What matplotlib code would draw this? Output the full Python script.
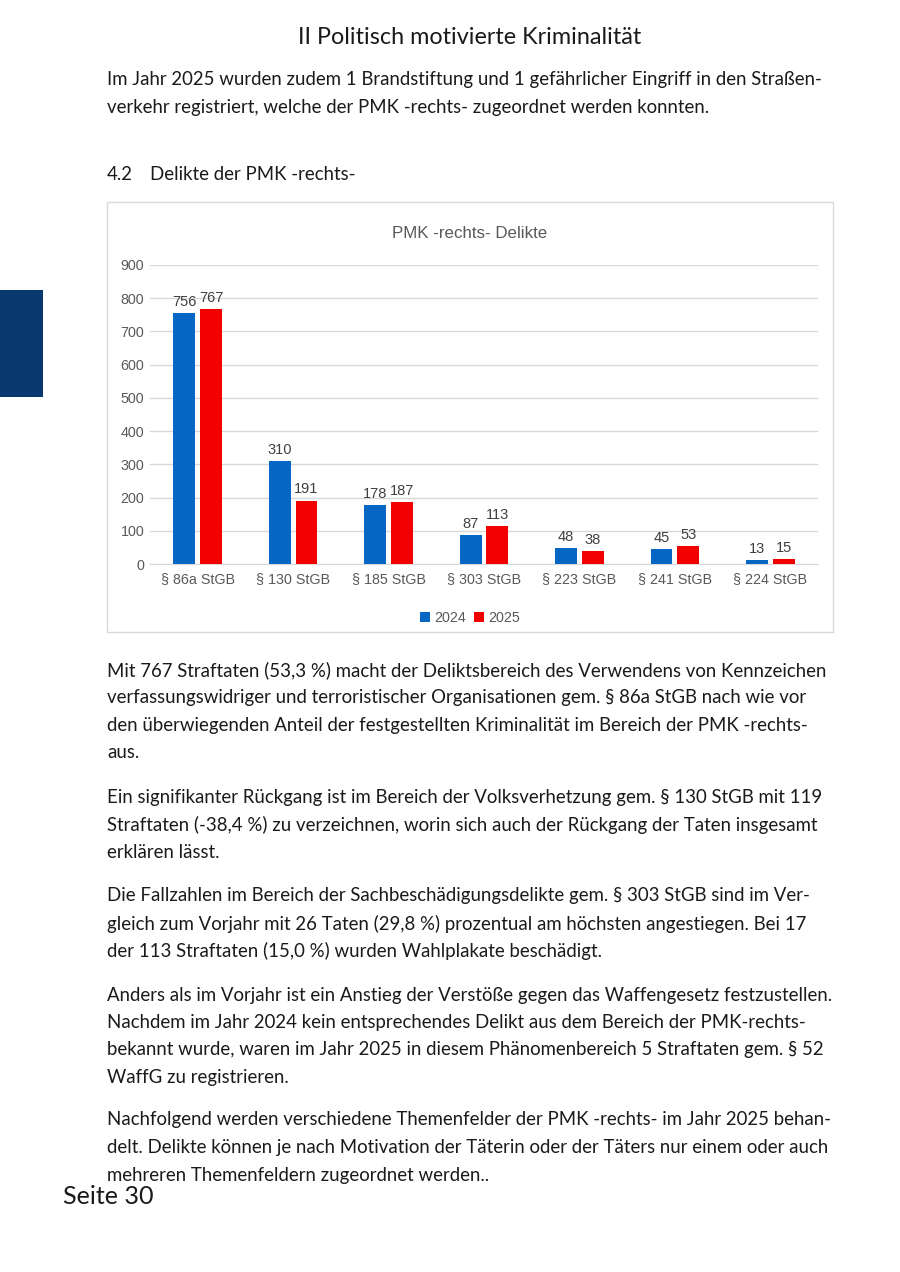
import matplotlib
matplotlib.use("Agg")
import matplotlib.pyplot as plt
from matplotlib import font_manager
from matplotlib.patches import Rectangle
import numpy as np

# ---------------- data ----------------
categories = ["§ 86a StGB", "§ 130 StGB", "§ 185 StGB", "§ 303 StGB",
              "§ 223 StGB", "§ 241 StGB", "§ 224 StGB"]
values_2024 = [756, 310, 178, 87, 48, 45, 13]
values_2025 = [767, 191, 187, 113, 38, 53, 15]
series_labels = ["2024", "2025"]
y_ticks = [0, 100, 200, 300, 400, 500, 600, 700, 800, 900]
chart_title = "PMK -rechts- Delikte"

header = "II Politisch motivierte Kriminalität"
intro_lines = [
    "Im Jahr 2025 wurden zudem 1 Brandstiftung und 1 gefährlicher Eingriff in den Straßen-",
    "verkehr registriert, welche der PMK -rechts- zugeordnet werden konnten.",
]
section_num = "4.2"
section_title = "Delikte der PMK -rechts-"
paragraphs = [
    ["Mit 767 Straftaten (53,3 %) macht der Deliktsbereich des Verwendens von Kennzeichen",
     "verfassungswidriger und terroristischer Organisationen gem. § 86a StGB nach wie vor",
     "den überwiegenden Anteil der festgestellten Kriminalität im Bereich der PMK -rechts-",
     "aus."],
    ["Ein signifikanter Rückgang ist im Bereich der Volksverhetzung gem. § 130 StGB mit 119",
     "Straftaten (-38,4 %) zu verzeichnen, worin sich auch der Rückgang der Taten insgesamt",
     "erklären lässt."],
    ["Die Fallzahlen im Bereich der Sachbeschädigungsdelikte gem. § 303 StGB sind im Ver-",
     "gleich zum Vorjahr mit 26 Taten (29,8 %) prozentual am höchsten angestiegen. Bei 17",
     "der 113 Straftaten (15,0 %) wurden Wahlplakate beschädigt."],
    ["Anders als im Vorjahr ist ein Anstieg der Verstöße gegen das Waffengesetz festzustellen.",
     "Nachdem im Jahr 2024 kein entsprechendes Delikt aus dem Bereich der PMK-rechts-",
     "bekannt wurde, waren im Jahr 2025 in diesem Phänomenbereich 5 Straftaten gem. § 52",
     "WaffG zu registrieren."],
    ["Nachfolgend werden verschiedene Themenfelder der PMK -rechts- im Jahr 2025 behan-",
     "delt. Delikte können je nach Motivation der Täterin oder der Täters nur einem oder auch",
     "mehreren Themenfeldern zugeordnet werden.."],
]
footer = "Seite 30"

# ---------------- fonts ----------------
available = {f.name for f in font_manager.fontManager.ttflist}
chart_font = "Liberation Sans Narrow" if "Liberation Sans Narrow" in available else "Liberation Sans"
page_font = "Lato"

W, H = 900, 1272
fig = plt.figure(figsize=(W / 100, H / 100), dpi=100)
fig.patch.set_facecolor("white")


def fx(px):
    return px / W


def fy(py):
    return 1 - py / H


text_color = "#1a1a1a"
body_size = 13.4

# header
fig.text(fx(470), fy(38), header, ha="center", va="center", fontsize=16.8,
         family=page_font, color=text_color)

# intro
for i, line in enumerate(intro_lines):
    fig.text(fx(107), fy(80 + i * 27.7), line, ha="left", va="center",
             fontsize=body_size, family=page_font, color=text_color)

# section heading
fig.text(fx(107), fy(175), section_num, ha="left", va="center",
         fontsize=body_size, family=page_font, color=text_color)
fig.text(fx(150), fy(175), section_title, ha="left", va="center",
         fontsize=body_size, family=page_font, color=text_color)

# paragraphs
para_starts = [670, 797, 896, 995, 1120]
for start, para in zip(para_starts, paragraphs):
    for i, line in enumerate(para):
        fig.text(fx(107), fy(start + i * 27.5), line, ha="left", va="center",
                 fontsize=body_size, family=page_font, color=text_color)

# footer
fig.text(fx(63), fy(1197), footer, ha="left", va="center", fontsize=18.1,
         family=page_font, color=text_color)

# side bar
fig.patches.append(Rectangle((0, fy(397)), fx(43), (397 - 290) / H,
                             transform=fig.transFigure, facecolor="#08386e",
                             edgecolor="none", zorder=-1))

# chart frame
fig.patches.append(Rectangle((fx(107), fy(632)), fx(833 - 107), (632 - 202) / H,
                             transform=fig.transFigure, facecolor="white",
                             edgecolor="#d9d9d9", linewidth=1.0, zorder=-1))

# ---------------- chart ----------------
ax = fig.add_axes([fx(150), fy(564), fx(818 - 150), (564 - 265) / H])
ax.set_zorder(2)
ax.set_facecolor("none")
x = np.arange(len(categories))
bw = 0.23
off = 0.14
blue = "#0566c3"
red = "#f20000"
b1 = ax.bar(x - off, values_2024, bw, color=blue, label=series_labels[0], zorder=3)
b2 = ax.bar(x + off, values_2025, bw, color=red, label=series_labels[1], zorder=3)

label_color = "#404040"
tick_color = "#595959"
for bars in (b1, b2):
    ax.bar_label(bars, padding=3, fontsize=10.5, color=label_color, family=chart_font)

ax.set_xlim(-0.5, len(categories) - 0.5)
ax.set_ylim(0, 900)
ax.set_yticks(y_ticks)
ax.set_xticks(x)
ax.set_xticklabels(categories)
ax.grid(axis="y", color="#d9d9d9", linewidth=1.0, zorder=0)
for s in ("top", "right", "left"):
    ax.spines[s].set_visible(False)
ax.spines["bottom"].set_color("#d9d9d9")
ax.tick_params(axis="both", length=0, labelsize=10.3, colors=tick_color)
ax.tick_params(axis="x", pad=6)
ax.tick_params(axis="y", pad=4)
for lab in ax.get_xticklabels() + ax.get_yticklabels():
    lab.set_family(chart_font)

fig.text(fx(470), fy(233), chart_title, ha="center", va="center",
         fontsize=12.2, color=tick_color, family=chart_font)

leg = fig.legend(handles=[b1, b2], labels=series_labels, loc="center",
                 bbox_to_anchor=(fx(470), fy(618)), ncol=2, frameon=False,
                 handlelength=0.7, handleheight=0.7, handletextpad=0.3,
                 columnspacing=0.6, prop={"family": chart_font, "size": 10.3})
for t in leg.get_texts():
    t.set_color(tick_color)

fig.savefig("out.png", dpi=100, facecolor="white")
